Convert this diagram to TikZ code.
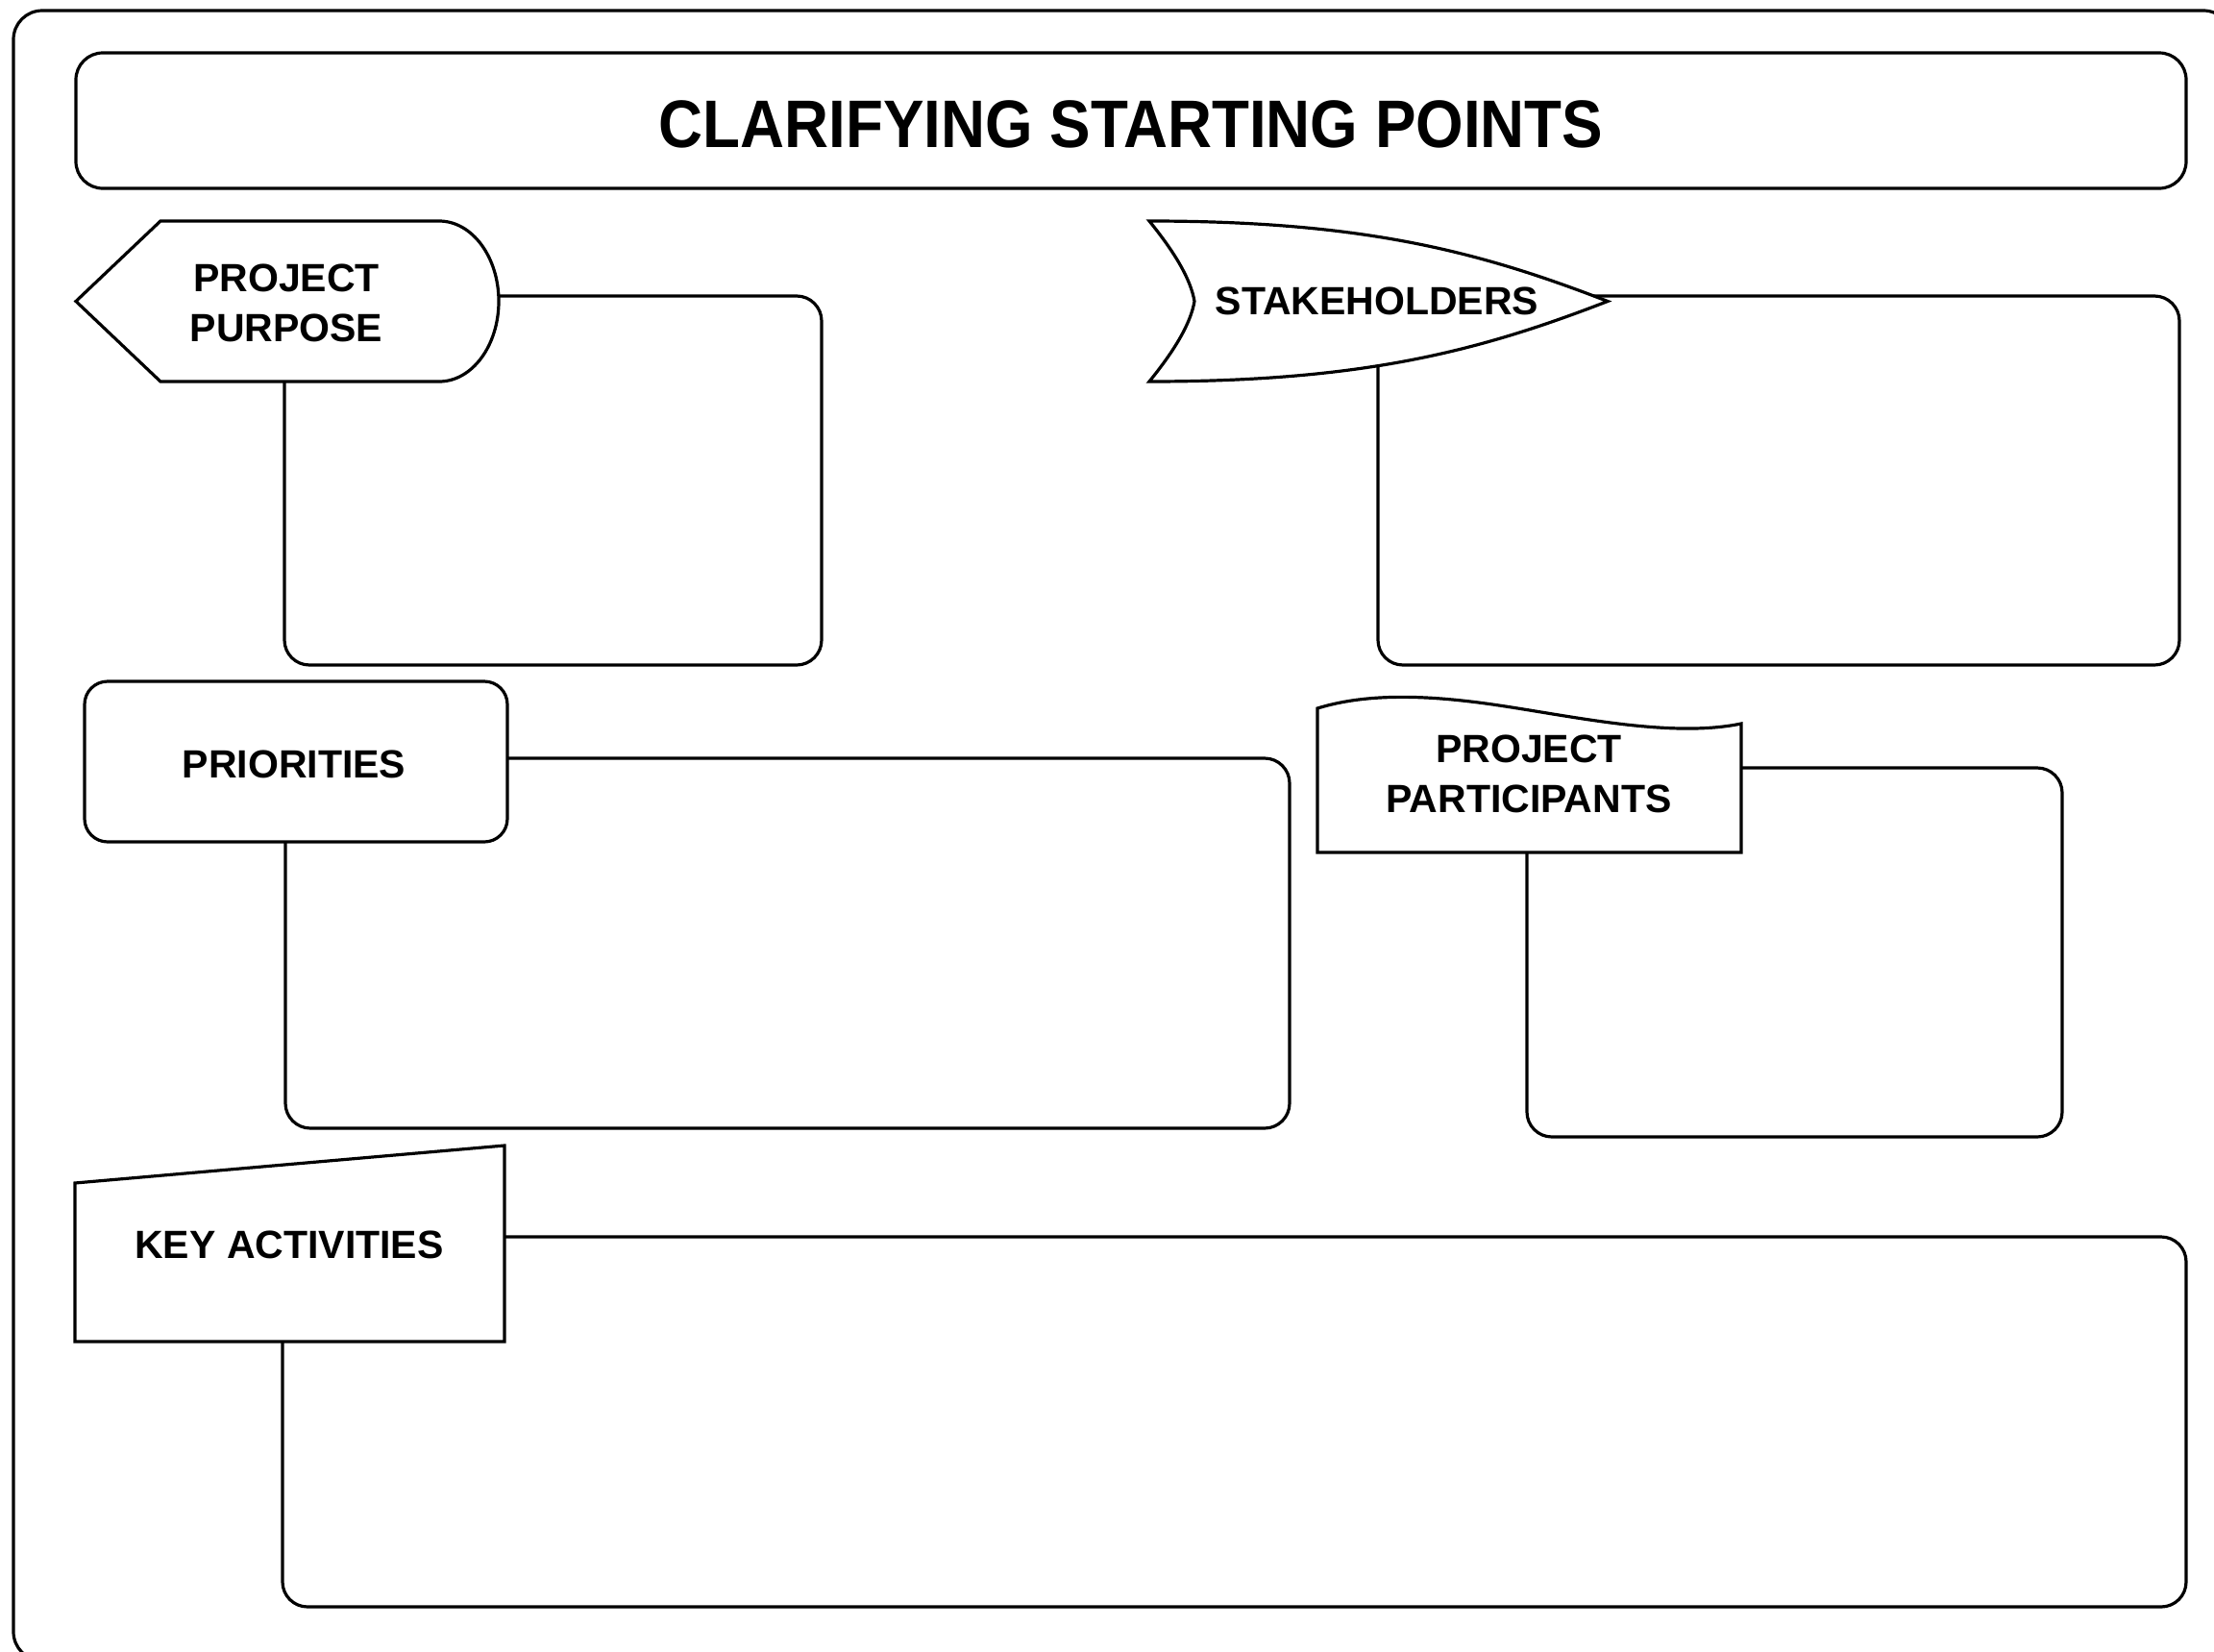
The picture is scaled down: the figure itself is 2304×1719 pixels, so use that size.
\documentclass[tikz,border=0pt]{standalone}
\usepackage{fontspec}
\setmainfont{Liberation Sans}
\newfontfamily\headfont[FakeStretch=0.91]{Liberation Sans}
\begin{document}
\begin{tikzpicture}[x=0.5pt, y=-0.5pt,
  outerframe/.style={draw, line width=1.6pt, rounded corners=15pt},
  titlebox/.style={draw, line width=1.6pt, rounded corners=14pt},
  panel/.style={draw, line width=1.6pt, rounded corners=13pt},
  tag/.style={draw, line width=1.6pt, fill=white, line join=miter},
  tagtext/.style={font=\fontsize{20.5}{26}\selectfont\bfseries, align=center, inner sep=0pt},
  titletext/.style={font=\headfont\fontsize{35}{38}\selectfont\bfseries, inner sep=0pt}]

\useasboundingbox (0,0) rectangle (2304,1719);

% sheet border, running off the page at right and bottom
\begin{scope}
  \clip (0,0) rectangle (2304,1719);
  \draw[outerframe] (14,11) rectangle (2323,1728);
\end{scope}

% heading
\draw[titlebox] (79,55) rectangle (2275,196);
\node[titletext] (title) at (1177,129) {CLARIFYING STARTING POINTS};

% writing panels (their top-left corners sit under the tags)
\draw[panel] (296,308)  rectangle (855,692);
\draw[panel] (1434,308) rectangle (2268,692);
\draw[panel] (297,789)  rectangle (1342,1174);
\draw[panel] (1589,799) rectangle (2146,1183);
\draw[panel] (294,1287) rectangle (2275,1672);

% tag: project purpose (display shape)
\draw[tag] (79,313.5) -- (167,230) -- (457,230)
  arc[start angle=-90, end angle=90, x radius=62, y radius=83.5]
  -- (167,397) -- cycle;

% tag: stakeholders (curved arrow head)
\draw[tag] (1243,313.5)
  .. controls (1239,290) and (1222,262) .. (1196,230)
  .. controls (1420,230) and (1540,262) .. (1673,313.5)
  .. controls (1540,365) and (1420,397) .. (1196,397)
  .. controls (1222,365) and (1239,337) .. (1243,313.5) -- cycle;

% tag: priorities
\draw[tag, rounded corners=12pt] (88,709) rectangle (528,876);

% tag: project participants (wavy top)
\draw[tag] (1371,887) -- (1371,737)
  .. controls (1420,722) and (1480,722) .. (1560,734)
  .. controls (1640,746) and (1740,768) .. (1812,753)
  -- (1812,887) -- cycle;

% tag: key activities (slanted top)
\draw[tag] (78,1231) -- (525,1192) -- (525,1396) -- (78,1396) -- cycle;

% tag labels
\node[tagtext] (purpose) at (298,315)   {PROJECT\\PURPOSE};
\node[tagtext] (stake)   at (1433,313)  {STAKEHOLDERS};
\node[tagtext] (prio)    at (306,795)   {PRIORITIES};
\node[tagtext] (part)    at (1591,805)  {PROJECT\\PARTICIPANTS};
\node[tagtext] (key)     at (301,1295)  {KEY ACTIVITIES};
\end{tikzpicture}
\end{document}
